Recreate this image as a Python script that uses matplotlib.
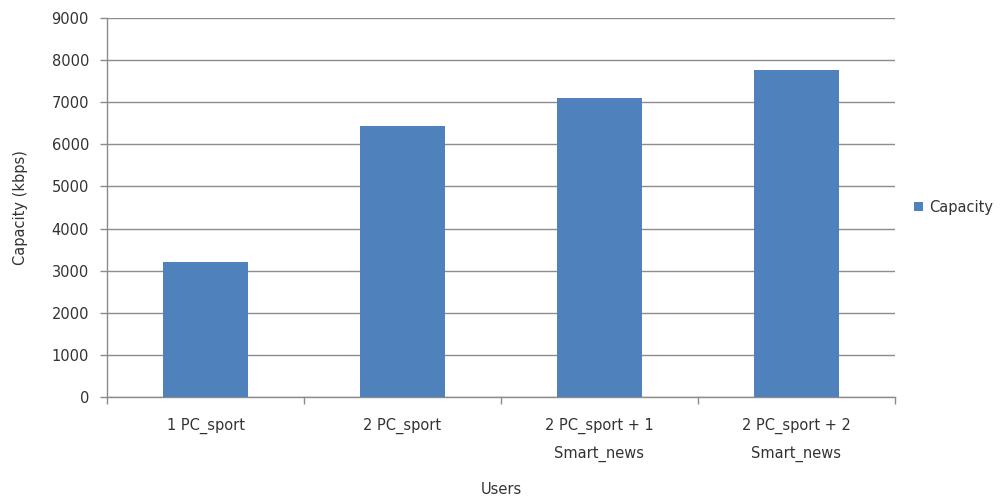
import matplotlib
matplotlib.use("Agg")
import matplotlib.pyplot as plt
import numpy as np

# capacity measured per user mix
users = ["1 PC_sport", "2 PC_sport", "2 PC_sport + 1\nSmart_news", "2 PC_sport + 2\nSmart_news"]
capacity = [3210, 6430, 7110, 7770]
yticks = [0, 1000, 2000, 3000, 4000, 5000, 6000, 7000, 8000, 9000]

bar_color = "#4F81BD"
line_color = "#8C8C8C"
text_color = "#333333"

plt.rcParams.update({"font.family": "DejaVu Sans", "font.size": 10.5})

fig = plt.figure(figsize=(10.05, 5.03), dpi=100)
ax = fig.add_axes([0.1065, 0.211, 0.784, 0.753])

x = np.arange(len(users))
ax.bar(x, capacity, width=0.43, color=bar_color, zorder=3, label="Capacity")

ax.set_xlim(-0.5, len(users) - 0.5)
ax.set_ylim(0, 9000)
ax.set_yticks(yticks)
ax.set_yticklabels([str(t) for t in yticks], color=text_color)
ax.yaxis.grid(True, color=line_color, linewidth=1.0, zorder=0)

# category labels centred, tick marks on category boundaries
ax.set_xticks(x)
ax.set_xticklabels(users, color=text_color, linespacing=2.0)
ax.tick_params(axis="x", length=0, pad=15)
ax.set_xticks(np.arange(-0.5, len(users)), minor=True)
ax.tick_params(axis="x", which="minor", length=5, color=line_color, width=1)
ax.tick_params(axis="y", length=5, color=line_color, width=1, pad=8)

for side in ["top", "right"]:
    ax.spines[side].set_visible(False)
for side in ["left", "bottom"]:
    ax.spines[side].set_color(line_color)
    ax.spines[side].set_linewidth(1.0)

ax.set_ylabel("Capacity (kbps)", color=text_color, labelpad=17)
ax.set_xlabel("Users", color=text_color, labelpad=14)

ax.legend(loc="center left", bbox_to_anchor=(1.008, 0.5), frameon=False,
          handlelength=0.6, handleheight=0.6, handletextpad=0.4,
          labelcolor=text_color)

fig.savefig("out.png", dpi=100)
